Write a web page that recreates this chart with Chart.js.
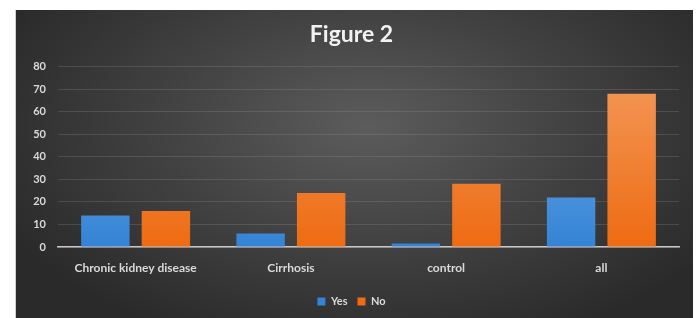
<!DOCTYPE html>
<html>
<head>
<meta charset="utf-8">
<script src="https://cdn.jsdelivr.net/npm/chart.js@4.4.0/dist/chart.umd.min.js"></script>
<style>
  html, body { margin: 0; padding: 0; background: #fff; }
  #panel {
    position: absolute; left: 15px; top: 10px; width: 678px; height: 308px;
    background: radial-gradient(ellipse 60% 75% at 52% 38%, #5c5c5c 0%, #424242 50%, #2a2a2a 100%);
    border-left: 1px solid #cfcfcf;
    box-sizing: border-box;
  }
  canvas { display: block; }
</style>
</head>
<body>
<div id="panel"><canvas id="chart" width="677" height="308"></canvas></div>
<script>
// Figure 2 data
const categories = ['Chronic kidney disease', 'Cirrhosis', 'control', 'all'];
const yesValues = [14, 6, 1.5, 22];
const noValues = [16, 24, 28, 68];
const yTicks = [0, 10, 20, 30, 40, 50, 60, 70, 80];

const tickColor = '#d9d9d9';
const fontFamily = 'Lato, "Open Sans", sans-serif';

function barGradient(top, bottom) {
    return function(context) {
        const chart = context.chart;
        const area = chart.chartArea;
        if (!area) return bottom;
        const g = chart.ctx.createLinearGradient(0, area.top, 0, area.bottom);
        g.addColorStop(0, top);
        g.addColorStop(1, bottom);
        return g;
    };
}

const ctx = document.getElementById('chart').getContext('2d');
new Chart(ctx, {
    type: 'bar',
    data: {
        labels: categories,
        datasets: [
            {
                label: 'Yes',
                data: yesValues,
                backgroundColor: barGradient('#7db2e6', '#3483d6'),
                borderWidth: 0,
                barPercentage: 0.8,
                categoryPercentage: 0.78
            },
            {
                label: 'No',
                data: noValues,
                backgroundColor: barGradient('#f39a5c', '#ee6b12'),
                borderWidth: 0,
                barPercentage: 0.8,
                categoryPercentage: 0.78
            }
        ]
    },
    options: {
        responsive: false,
        animation: false,
        layout: { padding: { left: 8, right: 14, top: 8, bottom: 1 } },
        plugins: {
            title: {
                display: true,
                text: 'Figure 2',
                color: '#f2f2f2',
                font: { family: fontFamily, size: 23, weight: 'bold' },
                padding: { top: 3, bottom: 18 }
            },
            legend: {
                position: 'bottom',
                labels: {
                    color: tickColor,
                    boxWidth: 8,
                    boxHeight: 8,
                    padding: 10,
                    font: { family: fontFamily, size: 11, weight: 'bold' }
                }
            },
            tooltip: { enabled: false }
        },
        scales: {
            x: {
                grid: { display: false },
                border: { color: '#c8c8c8', width: 1.5 },
                ticks: {
                    color: tickColor,
                    padding: 6,
                    maxRotation: 0,
                    font: { family: fontFamily, size: 12, weight: 'bold' }
                },
                afterFit: function(scale) { scale.height = 39; }
            },
            y: {
                min: 0,
                max: 80,
                afterBuildTicks: function(scale) {
                    scale.ticks = yTicks.map(v => ({ value: v }));
                },
                grid: { color: 'rgba(150,150,150,0.25)', drawTicks: false },
                border: { display: false },
                ticks: {
                    color: tickColor,
                    padding: 12,
                    font: { family: fontFamily, size: 11, weight: 'bold' }
                },
                afterFit: function(scale) { scale.width = 34; }
            }
        }
    }
});
</script>
</body>
</html>
